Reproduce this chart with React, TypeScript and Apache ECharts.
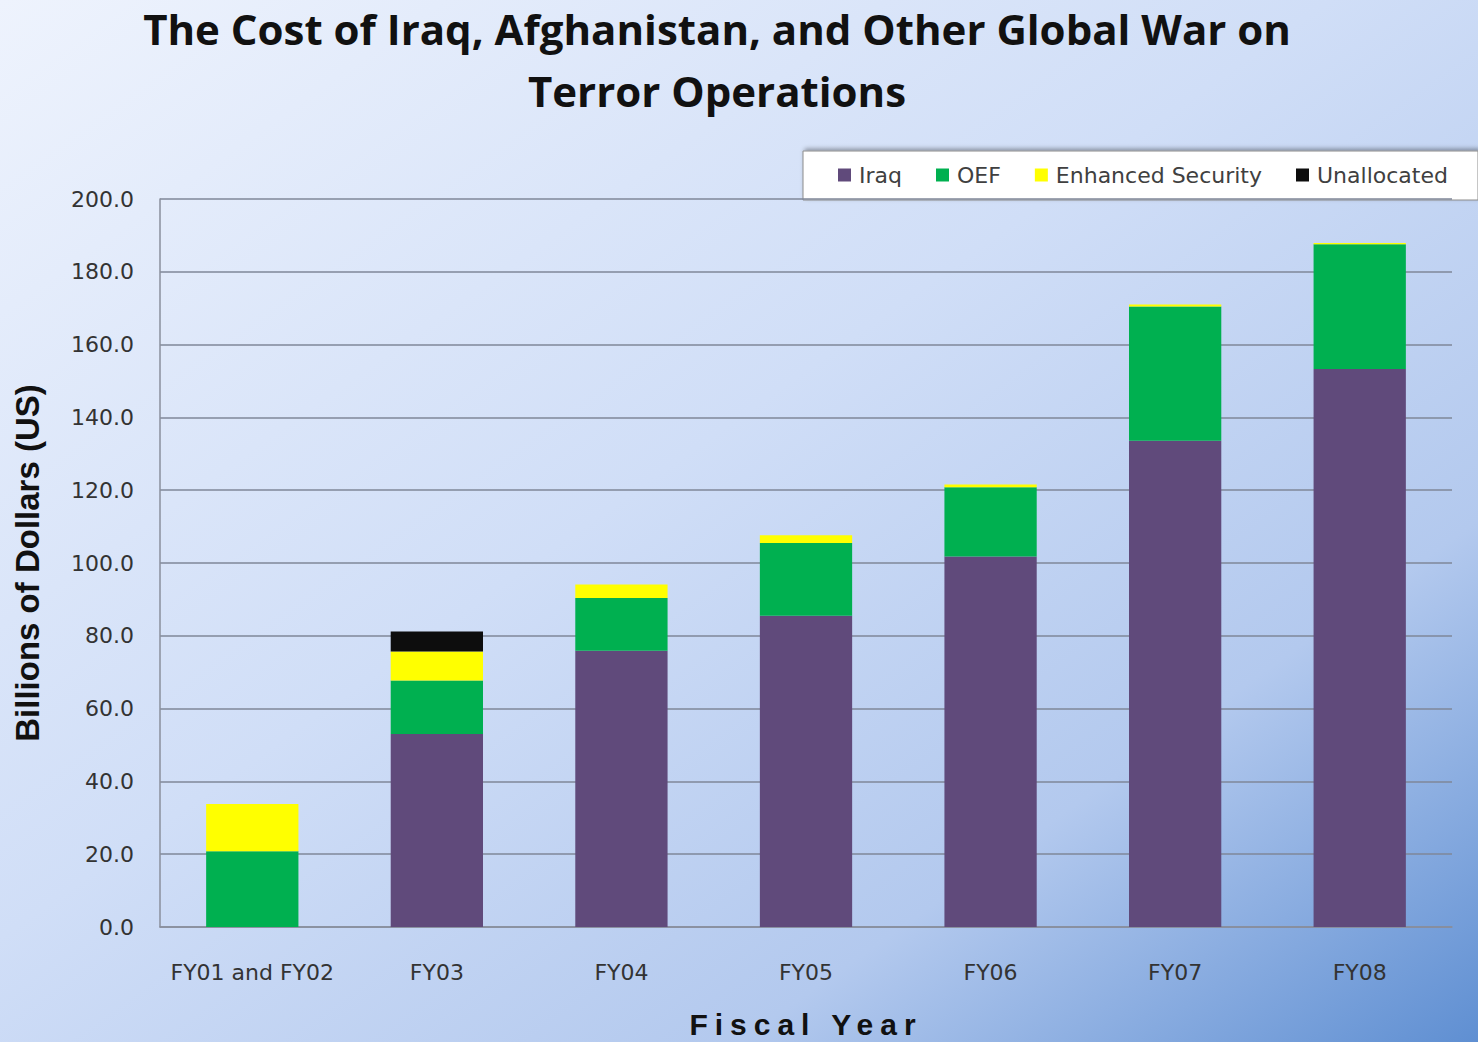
import React, { useEffect, useRef } from "react";
import * as echarts from "echarts";

const categories = ["FY01 and FY02", "FY03", "FY04", "FY05", "FY06", "FY07", "FY08"];
const iraq = [0, 53.0, 75.9, 85.5, 101.8, 133.6, 153.3];
const oef = [20.8, 14.7, 14.5, 20.0, 19.0, 36.9, 34.3];
const enhancedSecurity = [13.0, 8.0, 3.7, 2.1, 0.8, 0.5, 0.3];
const unallocated = [0, 5.5, 0, 0, 0, 0, 0];
const seriesNames = ["Iraq", "OEF", "Enhanced Security", "Unallocated"];
const seriesColors = ["#604a7b", "#00b050", "#ffff00", "#0d0d0d"];

export default function App() {
  const ref = useRef<HTMLDivElement>(null);
  useEffect(() => {
    if (!ref.current) return;
    const chart = echarts.init(ref.current, undefined, { renderer: "svg" });
    const dataSets = [iraq, oef, enhancedSecurity, unallocated];
    const labelFont = "'DejaVu Sans', sans-serif";
    chart.setOption({
      animation: false,
      backgroundColor: new echarts.graphic.LinearGradient(0, 0, 1, 1, [
        { offset: 0, color: "#eef3fd" },
        { offset: 0.45, color: "#d0def7" },
        { offset: 0.75, color: "#b3c9ee" },
        { offset: 1, color: "#5f8fd2" },
      ]),
      title: {
        text: "The Cost of Iraq, Afghanistan, and Other Global War on\nTerror Operations",
        left: 712,
        top: -8,
        textAlign: "center",
        textStyle: {
          fontFamily: "'Open Sans', sans-serif",
          fontWeight: "bold",
          fontSize: 42,
          lineHeight: 62,
          color: "#111111",
        },
      },
      graphic: [
        {
          type: "rect",
          shape: { x: 803, y: 151, width: 675, height: 49 },
          style: {
            fill: "#ffffff",
            stroke: "#8c8c8c",
            lineWidth: 1,
            shadowBlur: 4,
            shadowColor: "rgba(0,0,0,0.35)",
            shadowOffsetX: 2,
            shadowOffsetY: -2,
          },
          z: 0,
        },
      ],
      legend: {
        data: seriesNames,
        left: 833,
        top: 159,
        itemWidth: 13,
        itemHeight: 13,
        itemGap: 34,
        icon: "rect",
        textStyle: { fontFamily: labelFont, fontSize: 22, color: "#404040", padding: [0, 0, 0, 3] },
        z: 10,
      },
      grid: {
        left: 160,
        right: 26,
        top: 199,
        bottom: 115,
        containLabel: false,
        outerBoundsMode: "none",
      },
      xAxis: {
        type: "category",
        data: categories,
        name: "Fiscal Year",
        nameLocation: "middle",
        nameGap: 82,
        nameTextStyle: {
          fontFamily: "'Liberation Sans', Arial, sans-serif",
          fontWeight: "bold",
          fontSize: 30,
          color: "#111111",
        },
        axisLine: { show: true, lineStyle: { color: "#8a8f9c", width: 1.5 } },
        axisTick: { show: false },
        axisLabel: {
          fontFamily: labelFont,
          fontSize: 22,
          color: "#333333",
          margin: 34,
          interval: 0,
        },
      },
      yAxis: {
        type: "value",
        min: 0,
        max: 200,
        interval: 20,
        name: "Billions of Dollars (US)",
        nameLocation: "middle",
        nameGap: 116,
        nameRotate: 90,
        nameTextStyle: {
          fontFamily: "'Liberation Sans', Arial, sans-serif",
          fontWeight: "bold",
          fontSize: 33,
          color: "#111111",
        },
        axisLine: { show: true, lineStyle: { color: "#8a8f9c", width: 1.5 } },
        axisTick: { show: false },
        splitLine: { show: true, lineStyle: { color: "#7f8799", width: 1.5 } },
        axisLabel: {
          fontFamily: labelFont,
          fontSize: 22,
          color: "#333333",
          margin: 26,
          formatter: (v: number) => v.toFixed(1),
        },
      },
      series: dataSets.map((d, i) => ({
        name: seriesNames[i],
        type: "bar",
        stack: "total",
        data: d,
        barWidth: "50%",
        itemStyle: { color: seriesColors[i] },
      })),
    });
    const texts = ref.current.querySelectorAll("text");
    texts.forEach((t) => {
      if (t.textContent === "Fiscal Year") {
        t.setAttribute("letter-spacing", "7");
      }
    });
    return () => chart.dispose();
  }, []);
  return (
    <div
      ref={ref}
      style={{ position: "fixed", left: 0, top: 0, width: 1478, height: 1042 }}
    />
  );
}
